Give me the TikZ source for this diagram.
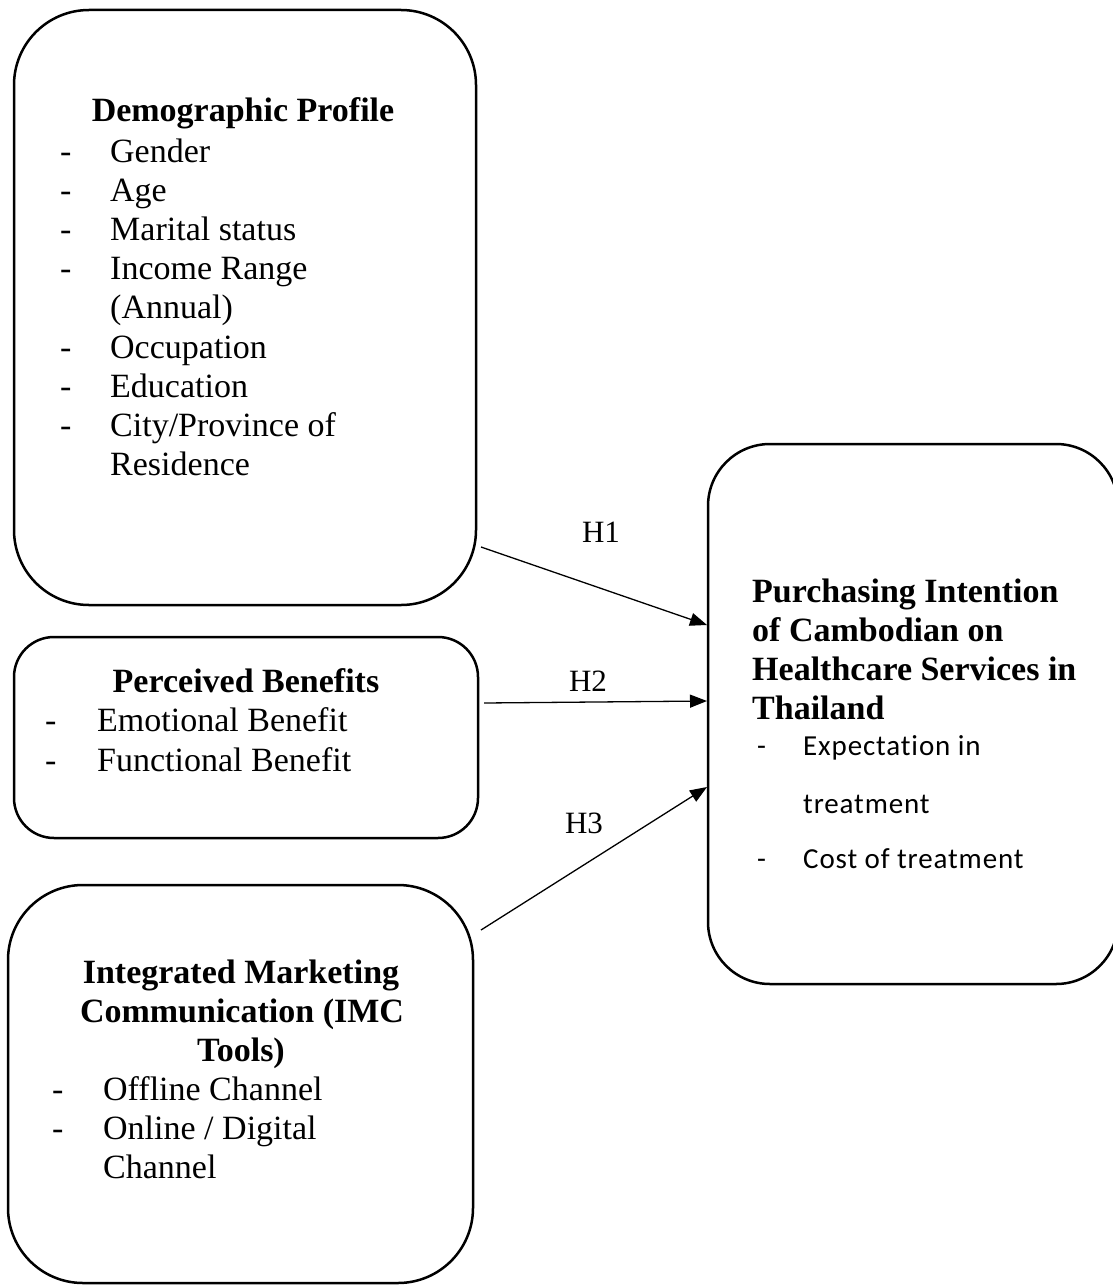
\documentclass[tikz,border=0pt]{standalone}
\usepackage{fontspec}
\setmainfont{Liberation Serif}
\newfontfamily\calib[LetterSpace=3,Ligatures=NoCommon]{Carlito}
\usetikzlibrary{arrows.meta}
\tikzset{
  box/.style={draw=black, line width=2.5pt, rectangle, inner sep=0pt},
  ttl/.style={anchor=base, inner sep=0pt, font=\fontsize{34}{39}\selectfont\bfseries},
  ttlw/.style={anchor=base west, inner sep=0pt, font=\fontsize{34}{39}\selectfont\bfseries},
  itm/.style={anchor=base west, inner sep=0pt, font=\fontsize{34}{39}\selectfont},
  sitm/.style={anchor=base west, inner sep=0pt, font=\fontsize{29}{35}\calib},
  hlab/.style={anchor=base, inner sep=0pt, font=\fontsize{31}{36}\selectfont},
  arr/.style={draw=black, line width=1.3pt, -{Triangle[length=17pt,width=13pt]}}
}
\begin{document}
\begin{tikzpicture}[x=1pt,y=-1pt]
\useasboundingbox[fill=white] (0,0) rectangle (1113,1287);
% boxes
\node[box, minimum width=462pt, minimum height=595pt, rounded corners=75pt] (demo) at (245,307.5) {};
\node[box, minimum width=464pt, minimum height=201pt, rounded corners=40pt] (perc) at (246,737.5) {};
\node[box, minimum width=465pt, minimum height=398pt, rounded corners=75pt] (imc) at (240.5,1084) {};
\node[box, minimum width=410pt, minimum height=540pt, rounded corners=62pt] (pur) at (913,714) {};
% demographic text
\node[ttl] (d0) at (243,122) {Demographic Profile};
\node[itm] (d1a) at (60,162) {-};  \node[itm] (d1) at (110,162) {Gender};
\node[itm] (d2a) at (60,201) {-};  \node[itm] (d2) at (110,201) {Age};
\node[itm] (d3a) at (60,240) {-};  \node[itm] (d3) at (110,240) {Marital status};
\node[itm] (d4a) at (60,279) {-};  \node[itm] (d4) at (110,279) {Income Range};
\node[itm] (d5) at (110,318) {(Annual)};
\node[itm] (d6a) at (60,358) {-};  \node[itm] (d6) at (110,358) {Occupation};
\node[itm] (d7a) at (60,397) {-};  \node[itm] (d7) at (110,397) {Education};
\node[itm] (d8a) at (60,436) {-};  \node[itm] (d8) at (110,436) {City/Province of};
\node[itm] (d9) at (110,475) {Residence};
% perceived benefits
\node[ttl] (p0) at (246,692) {Perceived Benefits};
\node[itm] (p1a) at (45,731) {-};  \node[itm] (p1) at (97,731) {Emotional Benefit};
\node[itm] (p2a) at (45,771) {-};  \node[itm] (p2) at (97,771) {Functional Benefit};
% IMC
\node[ttl] (i0) at (241,983) {Integrated Marketing};
\node[ttl] (i1) at (242,1022) {Communication (IMC};
\node[ttl] (i2) at (241,1061) {Tools)};
\node[itm] (i3a) at (52,1100) {-};  \node[itm] (i3) at (103,1100) {Offline Channel};
\node[itm] (i4a) at (52,1139) {-};  \node[itm] (i4) at (103,1139) {Online / Digital};
\node[itm] (i5) at (103,1178) {Channel};
% purchasing intention
\node[ttlw] (q0) at (752,602) {Purchasing Intention};
\node[ttlw] (q1) at (752,641) {of Cambodian on};
\node[ttlw] (q2) at (752,680) {Healthcare Services in};
\node[ttlw] (q3) at (752,719) {Thailand};
\node[sitm] (q4a) at (757,755) {-};  \node[sitm] (q4) at (803,755) {Expectation in};
\node[sitm] (q5) at (803,813) {treatment};
\node[sitm] (q6a) at (757,868) {-};  \node[sitm] (q6) at (803,868) {Cost of treatment};
% connectors
\coordinate (h1s) at (481,547);
\coordinate (h1e) at (707,625);
\coordinate (h2s) at (484,703);
\coordinate (h2e) at (707,701);
\coordinate (h3s) at (481,930);
\coordinate (h3e) at (707,787);
\draw[arr] (h1s) -- (h1e);
\draw[arr] (h2s) -- (h2e);
\draw[arr] (h3s) -- (h3e);
\node[hlab] (H1) at (601,542) {H1};
\node[hlab] (H2) at (588,691) {H2};
\node[hlab] (H3) at (584,833) {H3};
\end{tikzpicture}
\end{document}
